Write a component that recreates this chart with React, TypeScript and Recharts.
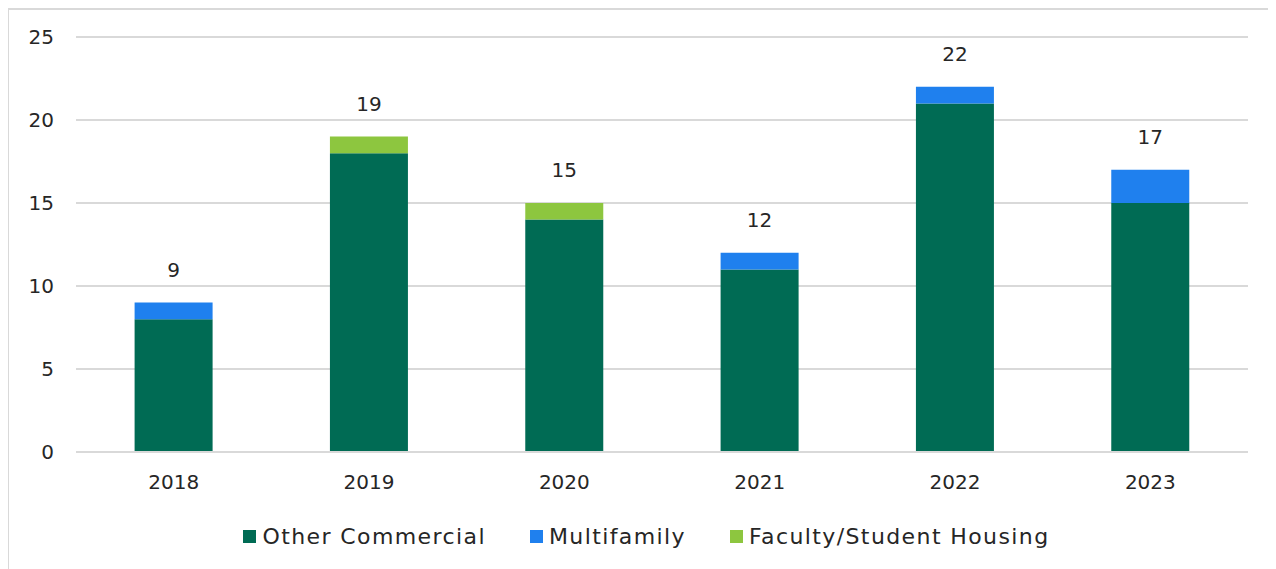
import React from "react";
import {
  BarChart,
  Bar,
  XAxis,
  YAxis,
  CartesianGrid,
  Legend,
  LabelList,
} from "recharts";

const years = ["2018", "2019", "2020", "2021", "2022", "2023"];
const otherCommercial = [8, 18, 14, 11, 21, 15];
const multifamily = [1, 0, 0, 1, 1, 2];
const facultyHousing = [0, 1, 1, 0, 0, 0];
const yTicks = [0, 5, 10, 15, 20, 25];

const seriesKeys = ["other", "multi", "faculty"];
const legendOrder = ["Other Commercial", "Multifamily", "Faculty/Student Housing"];

const data = years.map((year, i) => ({
  year,
  other: otherCommercial[i],
  multi: multifamily[i],
  faculty: facultyHousing[i],
  total: otherCommercial[i] + multifamily[i] + facultyHousing[i],
}));

const FONT = "'DejaVu Sans', sans-serif";
const TEXT = "#262626";

// key of the highest non-zero segment in a stack, the total sits on it
const topKey = (row: any) => {
  let key = seriesKeys[0];
  seriesKeys.forEach((k) => {
    if (row && row[k] > 0) key = k;
  });
  return key;
};

const totalAccessor = (key: string) => (entry: any) => {
  const row = entry && entry.payload;
  if (!row || topKey(row) !== key) return "";
  return row.total;
};

const totalLabel = (props: any) => {
  const { x, y, width, value } = props;
  if (value === "" || value == null) return null;
  return (
    <text
      x={x + width / 2}
      y={y - 26}
      textAnchor="middle"
      fontFamily={FONT}
      fontSize={20}
      fill={TEXT}
    >
      {value}
    </text>
  );
};

const renderLegend = (props: any) => {
  const items = [...props.payload].sort(
    (a: any, b: any) => legendOrder.indexOf(a.value) - legendOrder.indexOf(b.value)
  );
  return (
    <div
      style={{
        display: "flex",
        justifyContent: "center",
        fontFamily: FONT,
        paddingLeft: 36,
      }}
    >
      {items.map((entry: any, i: number) => (
        <div
          key={entry.value}
          style={{
            display: "flex",
            alignItems: "center",
            marginRight: i < items.length - 1 ? 44 : 0,
          }}
        >
          <span
            style={{
              width: 13,
              height: 13,
              background: entry.color,
              display: "inline-block",
              marginRight: 6,
            }}
          />
          <span style={{ fontSize: 22, letterSpacing: 1.4, color: TEXT }}>
            {entry.value}
          </span>
        </div>
      ))}
    </div>
  );
};

export default function App() {
  return (
    <div
      style={{
        width: 1268,
        height: 561,
        borderTop: "2px solid #d9d9d9",
        borderLeft: "2px solid #d9d9d9",
        marginLeft: -1,
        boxSizing: "border-box",
        background: "#fff",
      }}
    >
      <BarChart
        width={1266}
        height={559}
        data={data}
        margin={{ top: 27, right: 27, left: 0, bottom: 20 }}
        barCategoryGap="30%"
      >
        <CartesianGrid vertical={false} stroke="#d9d9d9" strokeWidth={2} />
        <XAxis
          dataKey="year"
          axisLine={{ stroke: "#d9d9d9", strokeWidth: 2 }}
          tickLine={false}
          tickSize={0}
          tickMargin={23}
          height={72}
          tick={{ fontFamily: FONT, fontSize: 20, fill: TEXT }}
        />
        <YAxis
          domain={[0, 25]}
          ticks={yTicks}
          axisLine={false}
          tickLine={false}
          tickSize={0}
          tickMargin={22}
          width={67}
          tick={{ fontFamily: FONT, fontSize: 20, fill: TEXT }}
        />
        <Legend content={renderLegend} verticalAlign="bottom" />
        <Bar
          dataKey="other"
          name="Other Commercial"
          stackId="a"
          fill="#006B54"
          isAnimationActive={false}
        >
          <LabelList valueAccessor={totalAccessor("other")} content={totalLabel} />
        </Bar>
        <Bar
          dataKey="multi"
          name="Multifamily"
          stackId="a"
          fill="#1F80EE"
          isAnimationActive={false}
        >
          <LabelList valueAccessor={totalAccessor("multi")} content={totalLabel} />
        </Bar>
        <Bar
          dataKey="faculty"
          name="Faculty/Student Housing"
          stackId="a"
          fill="#8DC63F"
          isAnimationActive={false}
        >
          <LabelList valueAccessor={totalAccessor("faculty")} content={totalLabel} />
        </Bar>
      </BarChart>
    </div>
  );
}
